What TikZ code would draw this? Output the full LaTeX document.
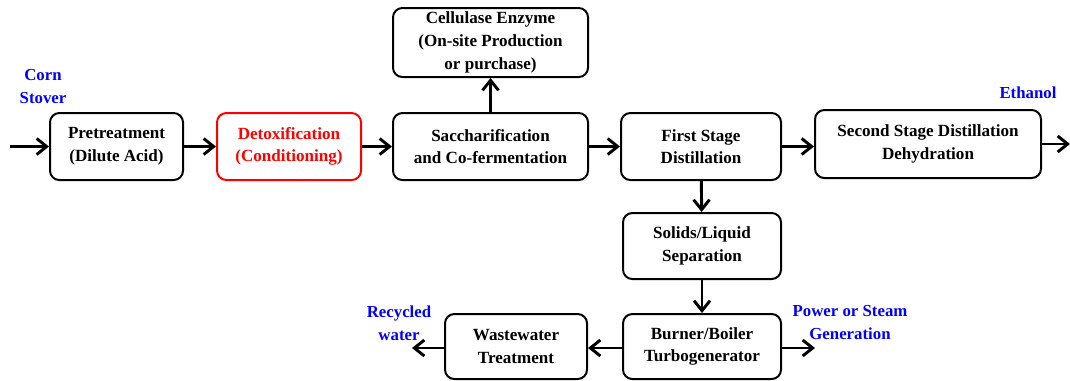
\documentclass[tikz,border=0pt]{standalone}
\usepackage{fontspec}
\setmainfont{Liberation Serif}
\usetikzlibrary{arrows.meta}

\tikzset{every picture/.style={line width=0.75pt}}
\tikzset{
  procbox/.style={draw, rounded corners=7pt, line width=1.5pt, align=center, inner sep=0pt,
    font=\fontsize{12.8}{17}\selectfont\bfseries},
  redbox/.style={procbox, draw={rgb, 255:red, 255; green, 0; blue, 0 }, text={rgb, 255:red, 255; green, 0; blue, 0 }},
  flow/.style={line width=2.2pt, -{Straight Barb[length=7.5pt,width=12pt,line width=2.2pt]}},
  outlabel/.style={align=center, inner sep=0pt, text={rgb, 255:red, 0; green, 0; blue, 255 },
    font=\fontsize{12.6}{17}\selectfont\bfseries}
}

\begin{document}
\begin{tikzpicture}[x=0.75pt,y=0.75pt,yscale=-1,xscale=1]
		\useasboundingbox (0,0) rectangle (1070,380);
		
		%Shape: Rounded Rect [id:pretreat] 
		\node [procbox, minimum width=99.75pt, minimum height=50.25pt] (pre) at (116.5,146.5) {Pretreatment\\(Dilute Acid)};
		%Shape: Rounded Rect [id:detox] 
		\node [redbox, minimum width=108pt, minimum height=50.25pt] (detox) at (289,146.5) {Detoxification\\(Conditioning)};
		%Shape: Rounded Rect [id:sacch] 
		\node [procbox, minimum width=146.25pt, minimum height=50.25pt] (sacch) at (490.5,146.5) {Saccharification\\and Co-fermentation};
		%Shape: Rounded Rect [id:enzyme] 
		\node [procbox, minimum width=146.25pt, minimum height=51.75pt] (enzyme) at (490.5,42.5) {Cellulase Enzyme\\(On-site Production\\or purchase)};
		%Shape: Rounded Rect [id:dist1] 
		\node [procbox, minimum width=120pt, minimum height=50.25pt] (dist1) at (701,146.5) {First Stage\\Distillation};
		%Shape: Rounded Rect [id:dist2] 
		\node [procbox, minimum width=169.5pt, minimum height=51pt] (dist2) at (928,144) {Second Stage Distillation\\Dehydration};
		%Shape: Rounded Rect [id:sep] 
		\node [procbox, minimum width=118.5pt, minimum height=49.5pt] (sep) at (702,246) {Solids/Liquid\\Separation};
		%Shape: Rounded Rect [id:boiler] 
		\node [procbox, minimum width=118.5pt, minimum height=48.75pt] (boiler) at (702,346.5) {Burner/Boiler\\Turbogenerator};
		%Shape: Rounded Rect [id:wwt] 
		\node [procbox, minimum width=106.5pt, minimum height=48.75pt] (wwt) at (516,346.5) {Wastewater\\Treatment};
		
		%free ends
		\coordinate (feed) at (10,146.5);
		\coordinate (product) at (1070,144);
		\coordinate (water) at (412,348);
		\coordinate (power) at (815,348);
		
		%Straight Lines [id:flows] 
		\draw [flow] (feed) -- (pre.west) ;
		\draw [flow] (pre) -- (detox) ;
		\draw [flow] (detox) -- (sacch) ;
		\draw [flow] (sacch) -- (dist1) ;
		\draw [flow] (dist1.east) -- (dist1.east -| dist2.west) ;
		\draw [flow] (dist2.east) -- (product) ;
		\draw [flow] (sacch) -- (enzyme) ;
		\draw [flow] (dist1) -- (sep) ;
		\draw [flow] (sep) -- (boiler) ;
		\draw [flow] (boiler.west |- water) -- (wwt.east |- water) ;
		\draw [flow] (wwt.west |- water) -- (water) ;
		\draw [flow] (boiler.east |- power) -- (power) ;
		
		\node [outlabel] (stover) at (43,86.5) {Corn\\Stover};
		\node [outlabel] (ethanol) at (1028,93) {Ethanol};
		\node [outlabel] (recycled) at (399,323) {Recycled\\water};
		\node [outlabel] (steam) at (850,322.5) {Power or Steam\\Generation};
		
		
	\end{tikzpicture}
\end{document}
